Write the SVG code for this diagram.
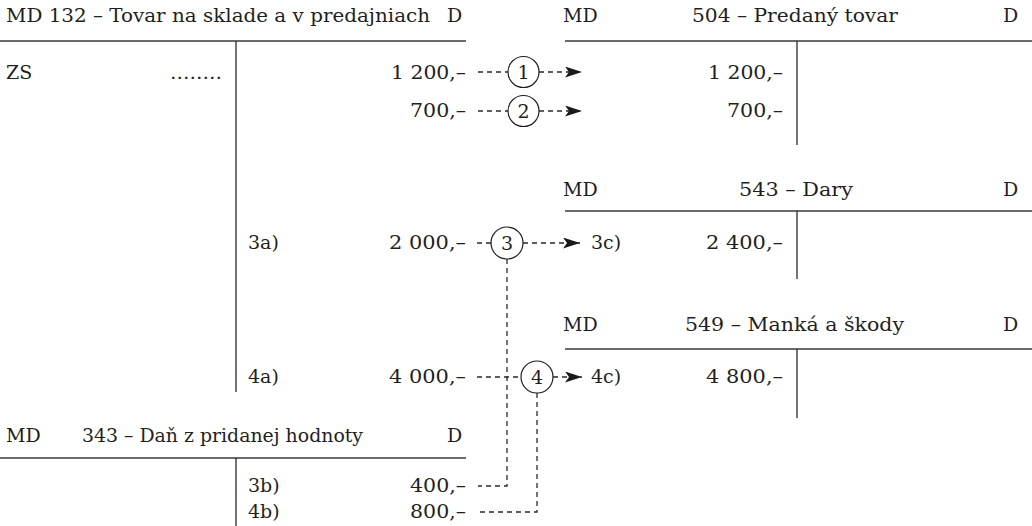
<svg xmlns="http://www.w3.org/2000/svg" width="1032" height="526" viewBox="0 0 1032 526">
<style>
text{font-family:"DejaVu Serif","Liberation Serif",serif;font-size:19px;fill:#1f1f1f}
.r{text-anchor:end}
.c{text-anchor:middle}
.tl{stroke:#3a3a3a;stroke-width:1.7;fill:none}
.tv{stroke:#2a2a2a;stroke-width:1.3;fill:none}
.d{stroke:#2a2a2a;stroke-width:1.3;fill:none;stroke-dasharray:5 4}
.ci{stroke:#1f1f1f;stroke-width:1.2;fill:#fff}
</style>
<defs>
<marker id="ah" markerUnits="userSpaceOnUse" markerWidth="18" markerHeight="12" refX="17" refY="5.5" orient="auto">
<path d="M0,0 L17,5.5 L0,11 L4,5.5 Z" fill="#1a1a1a"/>
</marker>
</defs>
<rect width="1032" height="526" fill="#fff"/>

<g id="acc132">
<text x="6" y="22" textLength="424" lengthAdjust="spacingAndGlyphs">MD 132 – Tovar na sklade a v predajniach</text>
<text x="447" y="22">D</text>
<line class="tl" x1="0" y1="41" x2="466" y2="41"/>
<line class="tv" x1="236" y1="41" x2="236" y2="392"/>
<text x="6" y="79">ZS</text>
<text x="170" y="79" textLength="52" lengthAdjust="spacingAndGlyphs">........</text>
<text class="r" x="466" y="79" textLength="75" lengthAdjust="spacingAndGlyphs">1 200,–</text>
<text class="r" x="466" y="117" textLength="56" lengthAdjust="spacingAndGlyphs">700,–</text>
<text x="248" y="249">3a)</text>
<text class="r" x="466" y="249" textLength="77" lengthAdjust="spacingAndGlyphs">2 000,–</text>
<text x="248" y="383">4a)</text>
<text class="r" x="466" y="383" textLength="77" lengthAdjust="spacingAndGlyphs">4 000,–</text>
</g>

<g id="acc504">
<text x="563" y="22">MD</text>
<text x="692" y="22" textLength="206" lengthAdjust="spacingAndGlyphs">504 – Predaný tovar</text>
<text x="1003" y="22">D</text>
<line class="tl" x1="565" y1="41" x2="1032" y2="41"/>
<line class="tv" x1="797" y1="41" x2="797" y2="145"/>
<text class="r" x="783" y="79" textLength="75" lengthAdjust="spacingAndGlyphs">1 200,–</text>
<text class="r" x="783" y="117" textLength="56" lengthAdjust="spacingAndGlyphs">700,–</text>
</g>

<g id="acc543">
<text x="563" y="196">MD</text>
<text x="739" y="196" textLength="114" lengthAdjust="spacingAndGlyphs">543 – Dary</text>
<text x="1003" y="196">D</text>
<line class="tl" x1="565" y1="211" x2="1032" y2="211"/>
<line class="tv" x1="797" y1="211" x2="797" y2="279"/>
<text x="591" y="249">3c)</text>
<text class="r" x="783" y="249" textLength="77" lengthAdjust="spacingAndGlyphs">2 400,–</text>
</g>

<g id="acc549">
<text x="563" y="331">MD</text>
<text x="685" y="331" textLength="219" lengthAdjust="spacingAndGlyphs">549 – Manká a škody</text>
<text x="1003" y="331">D</text>
<line class="tl" x1="565" y1="349" x2="1032" y2="349"/>
<line class="tv" x1="797" y1="349" x2="797" y2="418"/>
<text x="591" y="383">4c)</text>
<text class="r" x="783" y="383" textLength="77" lengthAdjust="spacingAndGlyphs">4 800,–</text>
</g>

<g id="acc343">
<text x="6" y="442">MD</text>
<text x="82" y="442" textLength="281" lengthAdjust="spacingAndGlyphs">343 – Daň z pridanej hodnoty</text>
<text x="447" y="442">D</text>
<line class="tl" x1="0" y1="458" x2="466" y2="458"/>
<line class="tv" x1="236" y1="458" x2="236" y2="526"/>
<text x="248" y="492">3b)</text>
<text class="r" x="466" y="492" textLength="56" lengthAdjust="spacingAndGlyphs">400,–</text>
<text x="248" y="518">4b)</text>
<text class="r" x="466" y="518" textLength="56" lengthAdjust="spacingAndGlyphs">800,–</text>
</g>

<g id="connectors">
<line class="d" x1="478" y1="72" x2="508" y2="72"/>
<line class="d" x1="539" y1="72" x2="582" y2="72" marker-end="url(#ah)"/>
<line class="d" x1="478" y1="111" x2="508" y2="111"/>
<line class="d" x1="539" y1="111" x2="582" y2="111" marker-end="url(#ah)"/>
<line class="d" x1="477" y1="243" x2="492" y2="243"/>
<line class="d" x1="523" y1="243" x2="580" y2="243" marker-end="url(#ah)"/>
<polyline class="d" points="507,259 507,486 478,486"/>
<line class="d" x1="477" y1="377" x2="521" y2="377"/>
<line class="d" x1="553" y1="377" x2="582" y2="377" marker-end="url(#ah)"/>
<polyline class="d" points="537,393 537,512 478,512"/>
</g>

<g id="step1"><circle class="ci" cx="523.5" cy="72" r="15.5"/><text class="c" x="523.5" y="78.5">1</text></g>
<g id="step2"><circle class="ci" cx="523.5" cy="111" r="15.5"/><text class="c" x="523.5" y="117.5">2</text></g>
<g id="step3"><circle class="ci" cx="507" cy="243" r="16"/><text class="c" x="507" y="249.5">3</text></g>
<g id="step4"><circle class="ci" cx="537" cy="377" r="16"/><text class="c" x="537" y="383.5">4</text></g>
</svg>
